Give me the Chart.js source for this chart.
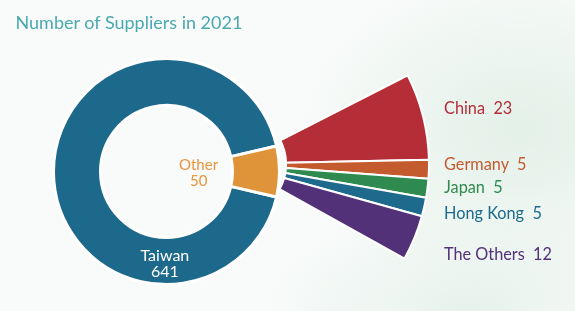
<!DOCTYPE html>
<html><head><meta charset="utf-8">
<script src="https://cdn.jsdelivr.net/npm/chart.js@4"></script>
<style>
html,body{margin:0;padding:0;}
body{width:575px;height:311px;overflow:hidden;position:relative;font-family:Lato,"Open Sans",sans-serif;
background:
 radial-gradient(ellipse 230px 170px at 520px 130px, rgba(224,239,230,0.9), rgba(224,239,230,0) 100%),
 radial-gradient(ellipse 220px 110px at 470px 311px, rgba(226,240,233,0.8), rgba(226,240,233,0) 100%),
 #f9fbfa;}
canvas{position:absolute;left:0;top:0;}
.lbl{position:absolute;white-space:pre;line-height:1;}
</style></head><body>
<canvas id="main" width="575" height="311"></canvas>
<canvas id="fan" width="575" height="311"></canvas>
<script>
// ---- data ----
const mainCategories = ['Taiwan', 'Other'];
const mainValues = [641, 50];
const fanCategories = ['China', 'Germany', 'Japan', 'Hong Kong', 'The Others'];
const fanValues = [23, 5, 5, 5, 12];
const titleText = 'Number of Suppliers in 2021';

// ---- styles ----
const mainColors = ['#1d698b', '#e0943a'];
const fanColors = ['#b52d36', '#c45b2f', '#2e8a4f', '#1d6a8c', '#533178'];
const mainLabelColors = ['#ffffff', '#e8953c'];
const fanLabelColors = ['#b52d38', '#c55a30', '#2e8b4e', '#1c6a8e', '#52307a'];

function placeCenter(chart, cx, cy) {
  let ox = 0, oy = 0;
  for (let k = 0; k < 3; k++) {
    const el = chart.getDatasetMeta(0).data[0];
    ox += cx - el.x; oy += cy - el.y;
    chart.options.layout.padding = {
      left: Math.max(0, 2 * ox), right: Math.max(0, -2 * ox),
      top: Math.max(0, 2 * oy), bottom: Math.max(0, -2 * oy)
    };
    chart.update('none');
  }
}

function commonOpts() {
  return {
    responsive: false, animation: false, events: [],
    layout: { padding: { left: 0, right: 0, top: 0, bottom: 0 } },
    plugins: { legend: { display: false }, tooltip: { enabled: false } }
  };
}

const mainTotal = mainValues.reduce((a, b) => a + b, 0);
const mainChart = new Chart(document.getElementById('main'), {
  type: 'doughnut',
  data: { labels: mainCategories, datasets: [{ data: mainValues, backgroundColor: mainColors,
    borderColor: '#ffffff', borderWidth: 3, clip: false }] },
  options: Object.assign(commonOpts(), {
    radius: 113, cutout: '58.4%',
    rotation: 90 + (mainValues[1] / mainTotal) * 180
  })
});
placeCenter(mainChart, 166.5, 171.5);

const fanChart = new Chart(document.getElementById('fan'), {
  type: 'doughnut',
  data: { labels: fanCategories, datasets: [{ data: fanValues, backgroundColor: fanColors,
    borderColor: '#ffffff', borderWidth: 2, clip: false }] },
  options: Object.assign(commonOpts(), {
    radius: 195, cutout: '26.7%',
    rotation: 63, circumference: 56
  })
});
placeCenter(fanChart, 234, 164);

// ---- text ----
const LATO_BASE = 0.887; // baseline offset in em for line-height 1
function addText(text, x, baseline, size, color, align) {
  const d = document.createElement('div');
  d.className = 'lbl';
  d.textContent = text;
  d.style.fontSize = size + 'px';
  d.style.color = color;
  d.style.top = (baseline - LATO_BASE * size) + 'px';
  document.body.appendChild(d);
  if (align === 'center') d.style.left = (x - d.offsetWidth / 2) + 'px';
  else d.style.left = x + 'px';
  return d;
}
addText(titleText, 15.5, 29.3, 18, '#4aa9b0', 'left');

const fanBaselines = [114, 170, 193.3, 219.3, 260];
fanCategories.forEach((c, i) => {
  addText(c + '  ' + fanValues[i], 444, fanBaselines[i], 16.3, fanLabelColors[i], 'left');
});
addText(mainCategories[1], 198.5, 170.7, 15, mainLabelColors[1], 'center');
addText(String(mainValues[1]), 198.5, 186, 15, mainLabelColors[1], 'center');
addText(mainCategories[0], 165, 260.7, 16, mainLabelColors[0], 'center');
addText(String(mainValues[0]), 165, 276.7, 16, mainLabelColors[0], 'center');
</script>
</body></html>
